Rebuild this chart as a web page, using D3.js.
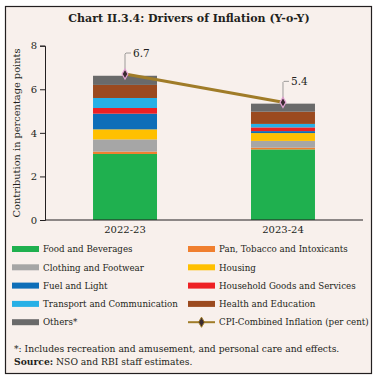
<!DOCTYPE html>
<html>
<head>
<meta charset="utf-8">
<script src="https://cdn.jsdelivr.net/npm/d3@7"></script>
<style>
  body { margin: 0; background: #fff; }
  text { font-family: "DejaVu Serif", serif; fill: #231f20; }
</style>
</head>
<body>
<div id="chart"></div>
<script>
// Data.
const years = ["2022-23", "2023-24"];
const components = [
    "Food and Beverages", "Pan, Tobacco and Intoxicants", "Clothing and Footwear",
    "Housing", "Fuel and Light", "Household Goods and Services",
    "Transport and Communication", "Health and Education", "Others*"
];
const contrib2223 = [3.03, 0.11, 0.56, 0.46, 0.72, 0.26, 0.46, 0.60, 0.42];
const contrib2324 = [3.24, 0.08, 0.31, 0.36, 0.09, 0.17, 0.16, 0.56, 0.37];
const cpiInflation = [6.7, 5.4];
const yTicks = [0, 2, 4, 6, 8];

const colors = ["#1fb04f", "#f07f2f", "#a6a6a6", "#ffc000", "#0e6eb8",
                "#ee2024", "#27b0e6", "#9b4a1f", "#6a6a6a"];
const lineColor = "#a07c28";

const width = 377, height = 378;

const svg = d3.select("#chart").append("svg")
    .attr("width", width)
    .attr("height", height);

// Frame and background
svg.append("rect")
    .attr("x", 5.5).attr("y", 6.5)
    .attr("width", 366).attr("height", 367)
    .attr("fill", "#f8f0ec")
    .attr("stroke", "#231f20")
    .attr("stroke-width", 1.2);

svg.append("text")
    .attr("x", 189).attr("y", 21.5)
    .attr("text-anchor", "middle")
    .attr("font-weight", "bold")
    .attr("font-size", 11)
    .text("Chart II.3.4: Drivers of Inflation (Y-o-Y)");

const x = d3.scaleBand()
    .domain(years)
    .range([45, 363])
    .paddingInner(0.595)
    .paddingOuter(0.304);

const y = d3.scaleLinear()
    .domain([0, 8])
    .range([220, 45.7]);

// Stack the contributions per year
const rows = years.map((yr, i) => {
    const vals = i === 0 ? contrib2223 : contrib2324;
    const r = { year: yr };
    components.forEach((c, j) => r[c] = vals[j]);
    return r;
});
const series = d3.stack().keys(components)(rows);

svg.append("g")
    .selectAll("g")
    .data(series)
    .join("g")
    .attr("fill", (d, i) => colors[i])
    .selectAll("rect")
    .data(d => d)
    .join("rect")
    .attr("x", d => x(d.data.year))
    .attr("y", d => y(d[1]))
    .attr("width", x.bandwidth())
    .attr("height", d => y(d[0]) - y(d[1]));

// Axes
const yAxis = svg.append("g")
    .attr("transform", "translate(45,0)")
    .call(d3.axisLeft(y).tickValues(yTicks).tickSize(5).tickPadding(3));
yAxis.select(".domain").attr("stroke", "#231f20");
yAxis.selectAll(".tick line").attr("stroke", "#231f20");
yAxis.selectAll("text").attr("font-size", 10).attr("font-family", "DejaVu Serif").attr("fill", "#231f20");

const xAxis = svg.append("g")
    .attr("transform", "translate(0,220)")
    .call(d3.axisBottom(x).tickSize(0).tickPadding(6));
xAxis.select(".domain").attr("stroke", "#231f20").attr("d", "M45,0H363");
xAxis.selectAll("text").attr("font-size", 10).attr("font-family", "DejaVu Serif").attr("fill", "#231f20");

svg.append("text")
    .attr("transform", "translate(20,133) rotate(-90)")
    .attr("text-anchor", "middle")
    .attr("font-size", 9.8)
    .text("Contribution in percentage points");

// CPI line
const cx = d => x(d) + x.bandwidth() / 2;
const linePts = years.map((yr, i) => [cx(yr), y(cpiInflation[i])]);

svg.append("path")
    .attr("d", d3.line()(linePts))
    .attr("fill", "none")
    .attr("stroke", lineColor)
    .attr("stroke-width", 3);

const diamond = d3.symbol().type(d3.symbolDiamond).size(30);

linePts.forEach((p, i) => {
    svg.append("path")
        .attr("d", `M${p[0]},${p[1] - 2}V${p[1] - 20}l1,-1h5`)
        .attr("fill", "none")
        .attr("stroke", "#777")
        .attr("stroke-width", 0.7);
    svg.append("path")
        .attr("d", diamond())
        .attr("transform", `translate(${p[0]},${p[1]})`)
        .attr("fill", "#3a2a30")
        .attr("stroke", "#e4a4d4")
        .attr("stroke-width", 1.2);
    svg.append("text")
        .attr("x", p[0] + 8).attr("y", p[1] - 17)
        .attr("font-size", 10.5)
        .text(cpiInflation[i].toFixed(1));
});

// Legend
const legendItems = components.concat(["CPI-Combined Inflation (per cent)"]);
const legend = svg.append("g");
legendItems.forEach((name, i) => {
    const col = i % 2, row = Math.floor(i / 2);
    const lx = col === 0 ? 12 : 188;
    const ly = 249 + row * 18.3;
    const g = legend.append("g");
    if (i < components.length) {
        g.append("rect")
            .attr("x", lx).attr("y", ly - 3)
            .attr("width", 27).attr("height", 6)
            .attr("fill", colors[i]);
    } else {
        g.append("line")
            .attr("x1", lx).attr("x2", lx + 27)
            .attr("y1", ly).attr("y2", ly)
            .attr("stroke", lineColor).attr("stroke-width", 2);
        g.append("path")
            .attr("d", diamond())
            .attr("transform", `translate(${lx + 13.5},${ly})`)
            .attr("fill", "#3a2a30")
            .attr("stroke", lineColor)
            .attr("stroke-width", 1);
    }
    g.append("text")
        .attr("x", lx + 31).attr("y", ly + 3.2)
        .attr("font-size", 8.7)
        .text(name);
});

// Notes
svg.append("text")
    .attr("x", 14).attr("y", 352)
    .attr("font-size", 9.2)
    .text("*: Includes recreation and amusement, and personal care and effects.");
const src = svg.append("text")
    .attr("x", 14).attr("y", 365)
    .attr("font-size", 9.2);
src.append("tspan").attr("font-weight", "bold").text("Source:");
src.append("tspan").text(" NSO and RBI staff estimates.");
</script>
</body>
</html>
